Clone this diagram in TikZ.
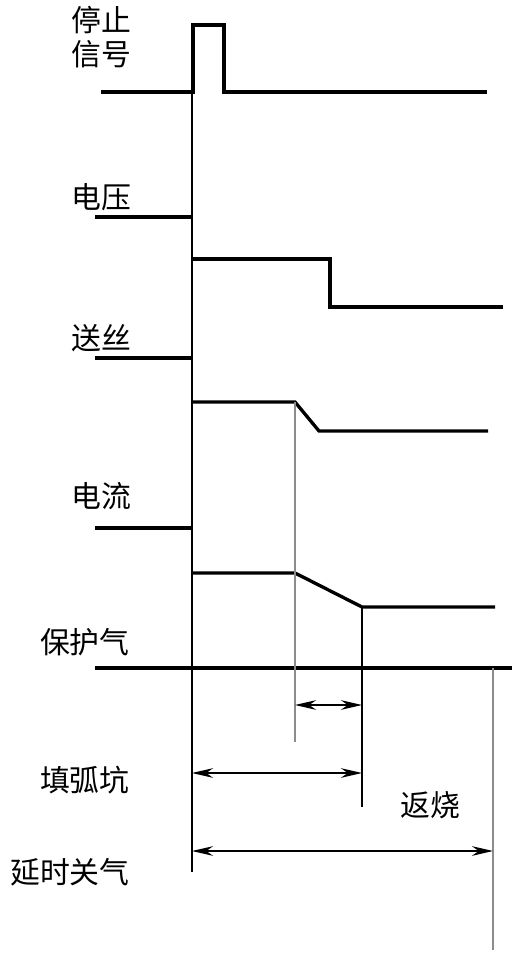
\documentclass[tikz,border=0pt]{standalone}
\usepackage{fontspec}
\usetikzlibrary{arrows.meta}
\newfontfamily\cjk{Noto Sans CJK SC}
\begin{document}
\begin{tikzpicture}[x=0.02cm,y=-0.02cm,
  sig/.style={line width=1.9pt, line join=miter},
  guide/.style={line width=0.9pt},
  guidegray/.style={line width=0.9pt, draw=black!45},
  span/.style={line width=0.9pt, {Stealth[length=12pt,width=5.5pt]}-{Stealth[length=12pt,width=5.5pt]}},
  lbl/.style={font=\cjk\fontsize{17}{19}\selectfont, inner sep=0pt}]
\useasboundingbox (0,0) rectangle (521,953);
% labels
\node[lbl, align=center] (stop) at (101,37) {停止\\信号};
\node[lbl] (volt) at (101,197) {电压};
\node[lbl] (wire) at (101,338) {送丝};
\node[lbl] (curr) at (101,496) {电流};
\node[lbl, anchor=east] (gas) at (130,642) {保护气};
\node[lbl, anchor=east] (fill) at (130,780) {填弧坑};
\node[lbl] (burn) at (430,805) {返烧};
\node[lbl, anchor=east] (delay) at (130,872) {延时关气};
% stop signal
\coordinate (s0) at (101,92);
\coordinate (s1) at (193,92);
\coordinate (s2) at (193,25);
\coordinate (s3) at (224,25);
\coordinate (s4) at (224,92);
\coordinate (s5) at (487,92);
\draw[sig] (s0) -- (s1) -- (s2) -- (s3) -- (s4) -- (s5);
% voltage
\coordinate (v0) at (95,217);
\coordinate (v1) at (192,217);
\coordinate (v2) at (192,259);
\coordinate (v3) at (330,259);
\coordinate (v4) at (330,307);
\coordinate (v5) at (503,307);
\draw[sig] (v0) -- (v1);
\draw[sig] (v2) -- (v3) -- (v4) -- (v5);
% wire feed
\coordinate (w0) at (95,358);
\coordinate (w1) at (192,358);
\coordinate (w2) at (192,402);
\coordinate (w3) at (295,402);
\coordinate (w4) at (319,431);
\coordinate (w5) at (488,431);
\draw[sig] (w0) -- (w1);
\draw[sig] (w2) -- (w3) -- (w4) -- (w5);
% current
\coordinate (c0) at (95,528);
\coordinate (c1) at (192,528);
\coordinate (c2) at (192,573);
\coordinate (c3) at (295,573);
\coordinate (c4) at (362,607);
\coordinate (c5) at (495,607);
\draw[sig] (c0) -- (c1);
\draw[sig] (c2) -- (c3) -- (c4) -- (c5);
% gas
\coordinate (g0) at (95,668);
\coordinate (g1) at (512,668);
\coordinate (g2) at (493,668);
\draw[sig] (g0) -- (g1);
% guide lines
\coordinate (t0) at (192,92);
\coordinate (t1) at (192,872);
\coordinate (k0) at (295,742);
\coordinate (k1) at (362,807);
\coordinate (k2) at (493,950);
\draw[guide] (t0) -- (t1);
\draw[guidegray] (w3) -- (k0);
\draw[guide] (c4) -- (k1);
\draw[guidegray] (g2) -- (k2);
% spans
\coordinate (a0) at (295,705);
\coordinate (a1) at (362,705);
\coordinate (b0) at (192,773);
\coordinate (b1) at (362,773);
\coordinate (d0) at (192,851);
\coordinate (d1) at (493,851);
\draw[span] (a0) -- (a1);
\draw[span] (b0) -- (b1);
\draw[span] (d0) -- (d1);
\end{tikzpicture}
\end{document}
